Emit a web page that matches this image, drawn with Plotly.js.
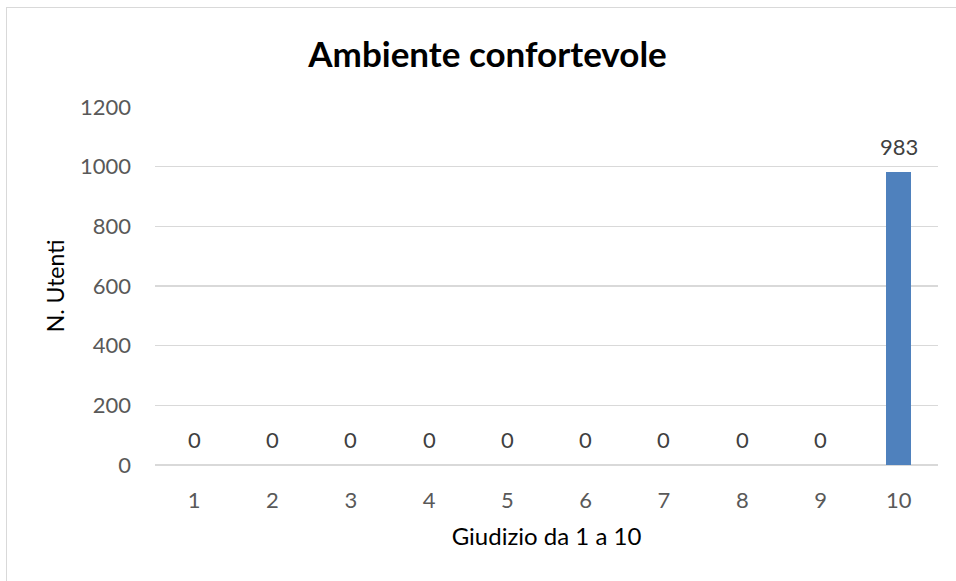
<!DOCTYPE html>
<html><head><meta charset="utf-8">
<script src="https://cdn.plot.ly/plotly-3.0.1.min.js"></script>
<style>
html,body{margin:0;padding:0;background:#fff;overflow:hidden;}
#wrap{position:relative;width:956px;height:581px;}
#chart{position:absolute;left:0;top:0;width:956px;height:581px;}
#frame{position:absolute;left:6px;top:7px;width:960px;height:600px;border:1px solid #d9d9d9;pointer-events:none;box-sizing:border-box;}
</style></head>
<body><div id="wrap"><div id="chart"></div><div id="frame"></div></div>
<script>
const categories = ["1","2","3","4","5","6","7","8","9","10"];
const users = [0,0,0,0,0,0,0,0,0,983];
const yTicks = [0,200,400,600,800,1000,1200];

const font = "Lato, 'Open Sans', 'Liberation Sans', sans-serif";
const trace = {
  type: "bar",
  x: categories,
  y: users,
  marker: {color: "#4f81bd"},
  width: 0.32,
  hoverinfo: "x+y"
};
const labels = categories.map((c, i) => ({
  x: i, y: users[i], xref: "x", yref: "y",
  text: String(users[i]), showarrow: false,
  yanchor: "bottom", yshift: 10,
  font: {family: font, size: 22, color: "#404040"}
}));
const layout = {
  width: 956, height: 581,
  margin: {l: 155, r: 18, t: 107, b: 116},
  paper_bgcolor: "#fff", plot_bgcolor: "#fff",
  showlegend: false,
  font: {family: font},
  title: {text: "<b>Ambiente confortevole</b>", x: 0.51, xanchor: "center", y: 0.905, yanchor: "middle",
          font: {family: font, size: 35, color: "#000"}},
  xaxis: {
    type: "category", showgrid: false, zeroline: false, showline: false,
    ticks: "", ticklabelstandoff: 20,
    tickfont: {family: font, size: 22, color: "#595959"},
    title: {text: "Giudizio da 1 a 10", font: {family: font, size: 24, color: "#000"}, standoff: 16}
  },
  yaxis: {
    range: [0, 1200], tickvals: yTicks, ticktext: yTicks.map(String),
    showgrid: true, gridcolor: "#d9d9d9", gridwidth: 1.3,
    zeroline: true, zerolinecolor: "#d9d9d9", zerolinewidth: 1.3,
    ticks: "", ticklabelstandoff: 23,
    tickfont: {family: font, size: 22, color: "#595959"},
    title: {text: "N. Utenti", font: {family: font, size: 23, color: "#000"}, standoff: 8}
  },
  annotations: labels,
  bargap: 0
};
Plotly.newPlot("chart", [trace], layout, {displayModeBar: false, staticPlot: true});
</script></body></html>
